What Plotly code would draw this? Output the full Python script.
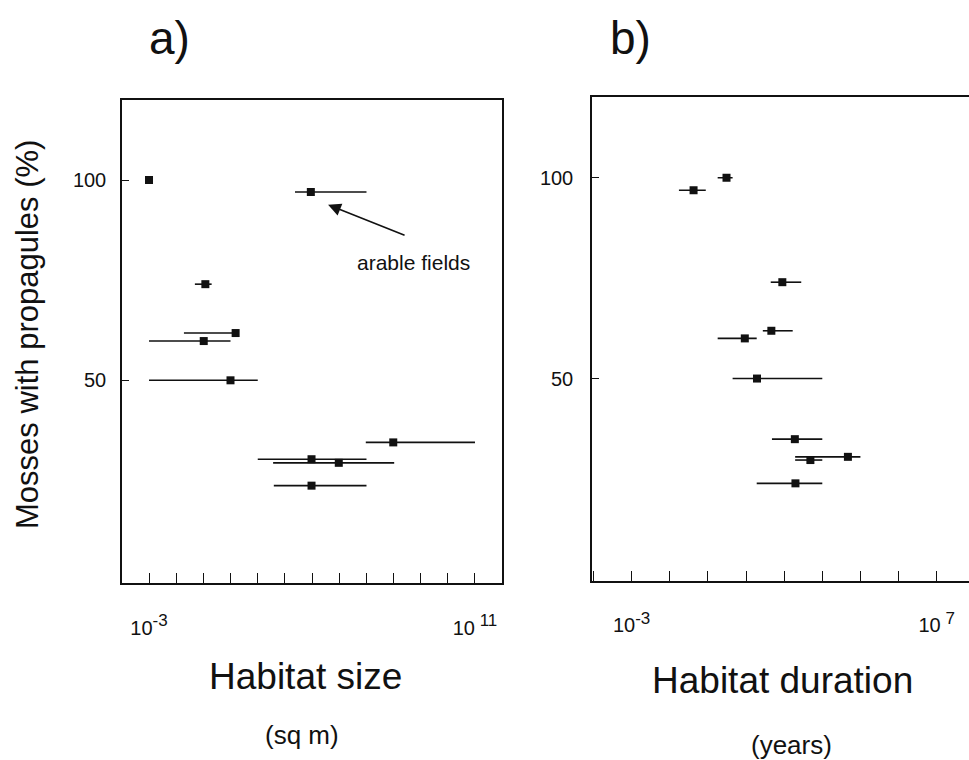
import numpy as np
import plotly.graph_objects as go

# ---------------- data (log10 units) ----------------
# Panel a: habitat size (log10 sq m)
size_center = [-3.0, 3.95, -0.58, 0.72, -0.65, 0.5, 7.49, 3.98, 5.15, 3.98]
size_low    = [-3.0, 3.27, -1.03, -1.5, -3.0, -3.0, 6.31, 1.67, 2.33, 2.36]
size_high   = [-3.0, 6.34, -0.31, 0.72, 0.5, 1.67, 11.0, 6.34, 7.53, 6.34]
size_pct    = [100, 97, 74, 61.8, 59.8, 50, 34.5, 30.3, 29.4, 23.7]

# Panel b: habitat duration (log10 years)
dur_center = [0.11, -0.97, 1.94, 1.58, 0.71, 1.11, 2.35, 4.09, 2.86, 2.37]
dur_low    = [-0.18, -1.45, 1.56, 1.3, -0.18, 0.31, 1.6, 2.36, 2.36, 1.1]
dur_high   = [0.31, -0.57, 2.56, 2.28, 1.1, 3.25, 3.25, 4.5, 3.25, 3.25]
dur_pct    = [100, 96.9, 74, 61.9, 60, 50, 34.9, 30.5, 29.7, 23.9]

y_ticks = [50, 100]
size_ticks = [-3, 11]
size_ticktext = ["10<sup><span style='font-size:17px'>-3</span></sup>",
                 "10<sup><span style='font-size:17px'> 11</span></sup>"]
size_minor_step = 14 / 12
dur_ticks = [-3, 7]
dur_ticktext = ["10<sup><span style='font-size:17px'>-3</span></sup>",
                "10<sup><span style='font-size:17px'> 7</span></sup>"]
dur_minor_step = 10 / 8

FONT = "Liberation Sans, Arial, sans-serif"
INK = "#111111"


def err(center, low, high):
    c = np.array(center)
    return dict(type="data", symmetric=False,
                array=list(np.array(high) - c), arrayminus=list(c - np.array(low)),
                color=INK, thickness=1.6, width=0)


fig = go.Figure()
fig.add_trace(go.Scatter(x=size_center, y=size_pct, mode="markers",
                         marker=dict(symbol="square", size=8, color=INK),
                         error_x=err(size_center, size_low, size_high),
                         xaxis="x", yaxis="y", showlegend=False))
fig.add_trace(go.Scatter(x=dur_center, y=dur_pct, mode="markers",
                         marker=dict(symbol="square", size=8, color=INK),
                         error_x=err(dur_center, dur_low, dur_high),
                         xaxis="x2", yaxis="y2", showlegend=False))

axis_common = dict(showgrid=False, zeroline=False, showline=True, linecolor=INK,
                   linewidth=1.5, ticks="inside", tickcolor=INK,
                   tickfont=dict(family=FONT, size=20, color=INK))


def minor(step):
    return dict(tick0=-3, dtick=step, ticks="inside", ticklen=10, tickwidth=1.3,
                tickcolor=INK, showgrid=False)


fig.update_layout(
    width=969, height=760,
    margin=dict(l=0, r=0, t=0, b=0),
    paper_bgcolor="white", plot_bgcolor="white",
    xaxis=dict(domain=[122 / 969, 502 / 969], range=[-4.16, 12.16], anchor="y",
               tickmode="array", tickvals=size_ticks, ticktext=size_ticktext,
               ticklen=10, tickwidth=1.3, mirror=True, ticklabelstandoff=26,
               minor=minor(size_minor_step), **axis_common),
    yaxis=dict(domain=[(760 - 583) / 760, (760 - 99.5) / 760], range=[-0.6, 120.1],
               anchor="x", tickmode="array", tickvals=y_ticks,
               ticklen=7, tickwidth=1.2, mirror=True, ticklabelstandoff=10,
               **axis_common),
    xaxis2=dict(domain=[592 / 969, 1.0], range=[-4.30, 8.06], anchor="y2",
                tickmode="array", tickvals=dur_ticks, ticktext=dur_ticktext,
                ticklen=10, tickwidth=1.3, mirror=True, ticklabelstandoff=26,
                minor=minor(dur_minor_step), **axis_common),
    yaxis2=dict(domain=[(760 - 580.5) / 760, (760 - 96.7) / 760], range=[-0.3, 120.2],
                anchor="x2", tickmode="array", tickvals=y_ticks,
                ticklen=7, tickwidth=1.2, mirror=False, ticklabelstandoff=13,
                **axis_common),
)


def label(text, px, py, size, **kw):
    return dict(text=text, x=px / 969, y=(760 - py) / 760, xref="paper", yref="paper",
                xanchor="center", yanchor="middle", showarrow=False,
                font=dict(family=FONT, size=size, color=INK), **kw)


ann = [
    label("a)", 169, 38, 46),
    label("b)", 630, 38, 46),
    label("Mosses with propagules (%)", 27, 335, 31, textangle=-90),
    label("Habitat size", 305, 676, 37),
    label("(sq m)", 302, 735, 26),
    label("Habitat duration", 782, 680, 37),
    label("(years)", 791, 745, 26),
    dict(text="arable fields", x=8.38, y=79.5, xref="x", yref="y",
         xanchor="center", yanchor="middle",
         showarrow=False, font=dict(family=FONT, size=21, color=INK)),
    dict(text="", x=4.69, y=93.8, xref="x", yref="y", ax=78, ay=31,
         showarrow=True, arrowhead=2, arrowsize=1.6, arrowwidth=1.6,
         arrowcolor=INK),
]
fig.update_layout(annotations=ann)

fig.write_html("out.html", config={"displayModeBar": False},
               post_script="document.body.style.margin='0';"
                           "document.body.style.overflow='hidden';")
